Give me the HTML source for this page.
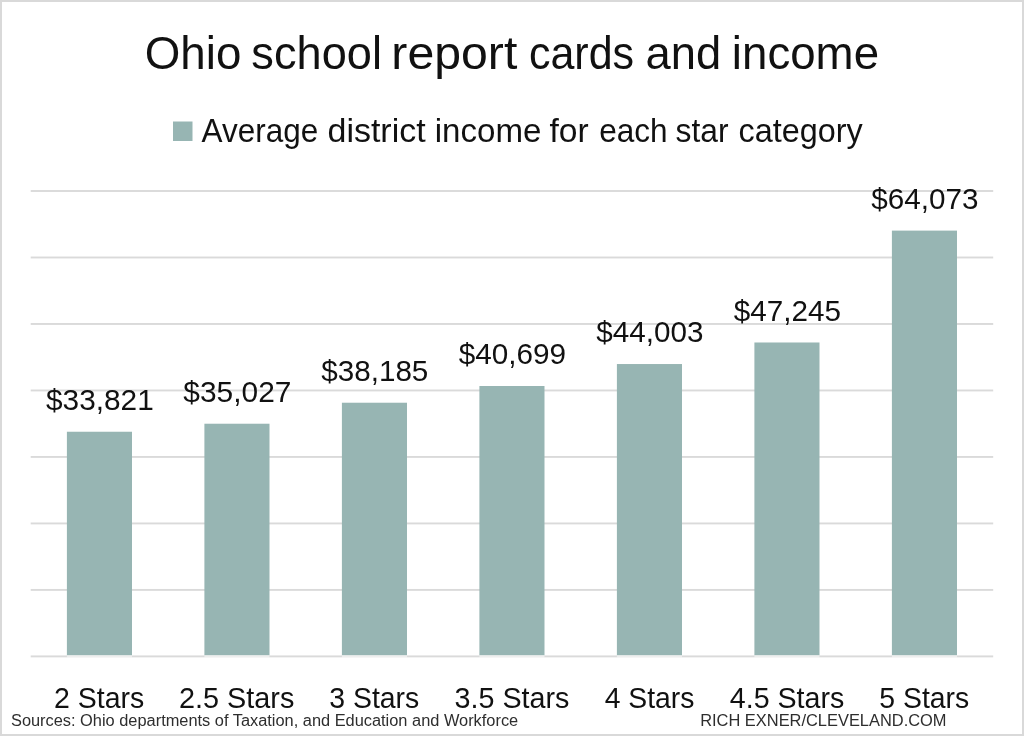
<!DOCTYPE html>
<html lang="en"><head><meta charset="utf-8"><title>Ohio school report cards and income</title>
<style>
html,body{margin:0;padding:0;background:#fff}
body{width:1024px;height:736px;overflow:hidden}
svg{display:block}
text{font-family:"Liberation Sans",sans-serif;fill:#111;white-space:pre}
.t{font-size:45.5px}
.g{font-size:33px}
.l{font-size:29.5px}
.c{font-size:29px}
.f{font-size:16px;fill:#2e2e2e}
</style></head><body>
<svg width="1024" height="736" viewBox="0 0 1024 736">
<rect x="0" y="0" width="1024" height="736" fill="#fff"/>
<rect x="1" y="1" width="1022" height="734" fill="none" stroke="#d9d9d9" stroke-width="2"/>
<g fill="#dadada">
<rect x="30.70" y="190.05" width="962.50" height="1.9"/>
<rect x="30.70" y="256.54" width="962.50" height="1.9"/>
<rect x="30.70" y="323.02" width="962.50" height="1.9"/>
<rect x="30.70" y="389.51" width="962.50" height="1.9"/>
<rect x="30.70" y="455.99" width="962.50" height="1.9"/>
<rect x="30.70" y="522.48" width="962.50" height="1.9"/>
<rect x="30.70" y="588.96" width="962.50" height="1.9"/>
<rect x="30.70" y="655.45" width="962.50" height="1.9"/>
</g>
<g fill="#97b5b3">
<rect x="66.90" y="431.74" width="65.1" height="223.56"/>
<rect x="204.40" y="423.72" width="65.1" height="231.58"/>
<rect x="341.90" y="402.72" width="65.1" height="252.58"/>
<rect x="479.40" y="386.01" width="65.1" height="269.29"/>
<rect x="616.90" y="364.04" width="65.1" height="291.26"/>
<rect x="754.40" y="342.49" width="65.1" height="312.81"/>
<rect x="891.90" y="230.61" width="65.1" height="424.69"/>
</g>
<g fill="#fff" fill-opacity="0.55">
<rect x="66.90" y="655.3" width="65.1" height="2.2"/>
<rect x="204.40" y="655.3" width="65.1" height="2.2"/>
<rect x="341.90" y="655.3" width="65.1" height="2.2"/>
<rect x="479.40" y="655.3" width="65.1" height="2.2"/>
<rect x="616.90" y="655.3" width="65.1" height="2.2"/>
<rect x="754.40" y="655.3" width="65.1" height="2.2"/>
<rect x="891.90" y="655.3" width="65.1" height="2.2"/>
</g>
<rect x="173" y="121.5" width="19.5" height="19.5" fill="#97b5b3"/>
<text id="title" class="t" y="68.60"><tspan id="title_0" x="144.80" textLength="96.63" lengthAdjust="spacingAndGlyphs">Ohio</tspan> <tspan id="title_1" x="251.36" textLength="130.56" lengthAdjust="spacingAndGlyphs">school</tspan> <tspan id="title_2" x="391.33" textLength="126.01" lengthAdjust="spacingAndGlyphs">report</tspan> <tspan id="title_3" x="528.94" textLength="105.14" lengthAdjust="spacingAndGlyphs">cards</tspan> <tspan id="title_4" x="645.60" textLength="75.62" lengthAdjust="spacingAndGlyphs">and</tspan> <tspan id="title_5" x="731.89" textLength="147.18" lengthAdjust="spacingAndGlyphs">income</tspan></text>
<text id="legend" class="g" y="142.00"><tspan id="legend_0" x="201.61" textLength="116.58" lengthAdjust="spacingAndGlyphs">Average</tspan> <tspan id="legend_1" x="327.53" textLength="98.14" lengthAdjust="spacingAndGlyphs">district</tspan> <tspan id="legend_2" x="434.77" textLength="106.69" lengthAdjust="spacingAndGlyphs">income</tspan> <tspan id="legend_3" x="549.52" textLength="39.19" lengthAdjust="spacingAndGlyphs">for</tspan> <tspan id="legend_4" x="599.23" textLength="68.40" lengthAdjust="spacingAndGlyphs">each</tspan> <tspan id="legend_5" x="675.61" textLength="52.99" lengthAdjust="spacingAndGlyphs">star</tspan> <tspan id="legend_6" x="738.58" textLength="124.13" lengthAdjust="spacingAndGlyphs">category</tspan></text>
<text id="v0" class="l" y="410.14"><tspan id="v0_0" x="46.06" textLength="107.69" lengthAdjust="spacingAndGlyphs">$33,821</tspan></text>
<text id="c0" class="c" y="707.80"><tspan id="c0_0" x="54.09" textLength="90.16" lengthAdjust="spacingAndGlyphs">2 Stars</tspan></text>
<text id="v1" class="l" y="402.12"><tspan id="v1_0" x="183.39" textLength="108.02" lengthAdjust="spacingAndGlyphs">$35,027</tspan></text>
<text id="c1" class="c" y="707.80"><tspan id="c1_0" x="179.04" textLength="115.32" lengthAdjust="spacingAndGlyphs">2.5 Stars</tspan></text>
<text id="v2" class="l" y="381.12"><tspan id="v2_0" x="321.32" textLength="107.02" lengthAdjust="spacingAndGlyphs">$38,185</tspan></text>
<text id="c2" class="c" y="707.80"><tspan id="c2_0" x="329.28" textLength="89.95" lengthAdjust="spacingAndGlyphs">3 Stars</tspan></text>
<text id="v3" class="l" y="364.41"><tspan id="v3_0" x="458.71" textLength="107.32" lengthAdjust="spacingAndGlyphs">$40,699</tspan></text>
<text id="c3" class="c" y="707.80"><tspan id="c3_0" x="454.60" textLength="114.76" lengthAdjust="spacingAndGlyphs">3.5 Stars</tspan></text>
<text id="v4" class="l" y="342.44"><tspan id="v4_0" x="596.33" textLength="107.20" lengthAdjust="spacingAndGlyphs">$44,003</tspan></text>
<text id="c4" class="c" y="707.80"><tspan id="c4_0" x="604.66" textLength="89.75" lengthAdjust="spacingAndGlyphs">4 Stars</tspan></text>
<text id="v5" class="l" y="320.89"><tspan id="v5_0" x="733.71" textLength="107.19" lengthAdjust="spacingAndGlyphs">$47,245</tspan></text>
<text id="c5" class="c" y="707.80"><tspan id="c5_0" x="729.83" textLength="114.49" lengthAdjust="spacingAndGlyphs">4.5 Stars</tspan></text>
<text id="v6" class="l" y="209.01"><tspan id="v6_0" x="871.33" textLength="107.20" lengthAdjust="spacingAndGlyphs">$64,073</tspan></text>
<text id="c6" class="c" y="707.80"><tspan id="c6_0" x="879.34" textLength="89.88" lengthAdjust="spacingAndGlyphs">5 Stars</tspan></text>
<text id="fl" class="f" y="725.70"><tspan id="fl_0" x="10.98" textLength="507.22" lengthAdjust="spacingAndGlyphs">Sources: Ohio departments of Taxation, and Education and Workforce</tspan></text>
<text id="fr" class="f" y="725.80"><tspan id="fr_0" x="700.16" textLength="246.39" lengthAdjust="spacingAndGlyphs">RICH EXNER/CLEVELAND.COM</tspan></text>
</svg>
</body></html>
